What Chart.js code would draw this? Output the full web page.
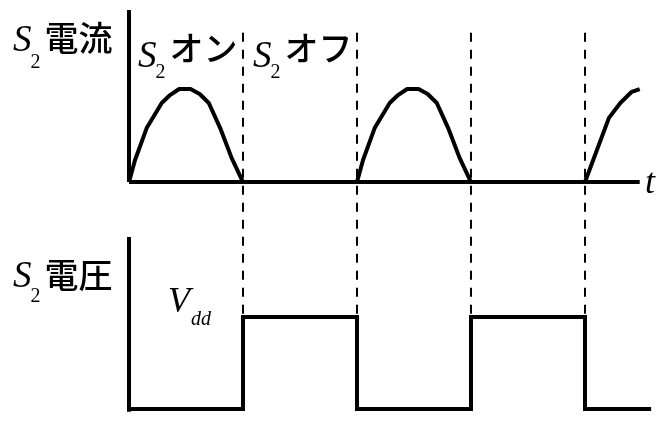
<!DOCTYPE html>
<html>
<head>
<meta charset="utf-8">
<script src="https://cdn.jsdelivr.net/npm/chart.js@4"></script>
<style>
body { margin: 0; background: #fff; }
#box { width: 660px; height: 422px; }
</style>
</head>
<body>
<div id="box"><canvas id="myChart" width="660" height="422"></canvas></div>
<script>
// time is counted in half periods: S2 conducts from 0 to 1, is off from 1 to 2, ...
const currentT = [0, 0.053, 0.155, 0.287, 0.36, 0.44, 0.54, 0.62, 0.70, 0.80, 0.90, 1.0,
                  2.0, 2.053, 2.155, 2.287, 2.36, 2.44, 2.54, 2.62, 2.70, 2.80, 2.90, 3.0,
                  4.0, 4.21, 4.31, 4.41, 4.48];
const currentI = [0, 0.237, 0.58, 0.85, 0.935, 1.0, 1.0, 0.946, 0.85, 0.58, 0.26, 0,
                  0, 0.237, 0.58, 0.85, 0.935, 1.0, 1.0, 0.946, 0.85, 0.58, 0.26, 0,
                  0, 0.69, 0.85, 0.97, 1.0];

// drain voltage, Vdd = 1 while the switch is off
const voltageT = [0, 1, 1, 2, 2, 3, 3, 4, 4, 4.58];
const voltageV = [0, 0, 1, 1, 0, 0, 1, 1, 0, 0];

// switching instants (dashed markers)
const switchT = [1, 2, 3, 4];

// axis extents
const currentAxisT = [0, 4.48];
const currentAxisTop = 1.85;
const voltageAxisTop = 1.87;
const markerTop = 4.09;

const pts = (xs, ys) => xs.map((x, i) => ({x: x, y: ys[i]}));

const solid = {
  showLine: true,
  borderColor: '#000',
  borderWidth: 4,
  pointRadius: 0,
  tension: 0,
  fill: false
};

const datasets = [
  // current waveform and its axes
  Object.assign({}, solid, {yAxisID: 'yI', data: pts(currentT, currentI), borderJoinStyle: 'round'}),
  Object.assign({}, solid, {yAxisID: 'yI', data: pts(currentAxisT, [0, 0])}),
  Object.assign({}, solid, {yAxisID: 'yI', data: pts([0, 0], [0, currentAxisTop])}),
  // voltage waveform and its vertical axis
  Object.assign({}, solid, {yAxisID: 'yV', data: pts(voltageT, voltageV), borderJoinStyle: 'miter'}),
  Object.assign({}, solid, {yAxisID: 'yV', data: pts([0, 0], [-0.03, voltageAxisTop])})
];

switchT.forEach(t => {
  datasets.push({
    showLine: true,
    yAxisID: 'yV',
    data: pts([t, t], [markerTop, 1]),
    borderColor: '#000',
    borderWidth: 2,
    borderDash: [9, 8],
    pointRadius: 0
  });
});

// S with subscript 2 followed by a Japanese word
function signalName(ctx, x, y, subDy, word, wordY) {
  ctx.font = 'italic 37px "Liberation Serif"';
  ctx.fillText('S', x, y);
  const w = ctx.measureText('S').width;
  ctx.font = '20px "Liberation Serif"';
  ctx.fillText('2', x + w - 1, y + subDy);
  ctx.font = '500 34px "Noto Sans CJK JP"';
  ctx.fillText(word, x + w + 13, wordY);
}

const labelPlugin = {
  id: 'waveLabels',
  afterDraw(chart) {
    const ctx = chart.ctx;
    ctx.save();
    ctx.fillStyle = '#000';
    ctx.textBaseline = 'alphabetic';
    signalName(ctx, 13, 51, 17, '電流', 51);
    signalName(ctx, 138, 67, 11, 'オン', 61);
    signalName(ctx, 253, 67, 11, 'オフ', 61);
    signalName(ctx, 13, 287, 15, '電圧', 288);
    ctx.font = 'italic 36px "Liberation Serif"';
    ctx.fillText('V', 168, 312);
    ctx.fillText('t', 645, 193);
    ctx.font = 'italic 20px "Liberation Serif"';
    ctx.fillText('dd', 191, 325);
    ctx.restore();
  }
};

const config = {
  type: 'scatter',
  data: {datasets: datasets},
  options: {
    responsive: false,
    animation: false,
    events: [],
    layout: {padding: 0},
    plugins: {legend: {display: false}, tooltip: {enabled: false}},
    scales: {
      x: {type: 'linear', display: false, min: -1.1316, max: 4.658},
      yI: {type: 'linear', display: false, min: -2.58, max: 1.957},
      yV: {type: 'linear', display: false, min: -0.141, max: 4.446}
    }
  },
  plugins: [labelPlugin]
};

const myChart = new Chart(document.getElementById('myChart'), config);
</script>
</body>
</html>
